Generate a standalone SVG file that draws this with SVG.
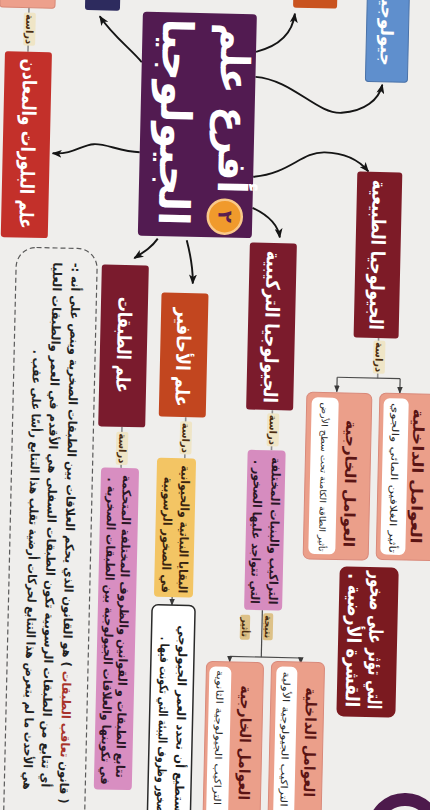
<svg xmlns="http://www.w3.org/2000/svg" width="430" height="810" viewBox="0 0 430 810">
<defs>
  <marker id="arr" viewBox="0 0 10 8" refX="9" refY="4" markerWidth="10" markerHeight="8" markerUnits="userSpaceOnUse" orient="auto">
    <path d="M0,0 L10,4 L0,8 L2.5,4 z" fill="#141414"/>
  </marker>
  <marker id="arrs" viewBox="0 0 10 8" refX="9" refY="4" markerWidth="7" markerHeight="6" markerUnits="userSpaceOnUse" orient="auto">
    <path d="M0,0 L10,4 L0,8 z" fill="#3a3a3a"/>
  </marker>
  <style>
    text { font-family: "DejaVu Sans", "Noto Sans", sans-serif; direction: rtl; text-anchor: middle; dominant-baseline: central; }
    .w { fill: #ffffff; font-weight: bold; }
    .hd { font-size: 19px; }
    .dk { fill: #2a1626; font-weight: bold; font-size: 12px; }
    .fac { fill: #5a1414; font-weight: bold; font-size: 15px; }
    .sm { fill: #2a2a2a; font-size: 9.5px; }
    .lbl { fill: #4a2c10; font-weight: bold; font-size: 10px; }
    .lblbg { fill: #efe5c6; }
    .tagbg { fill: #ddc187; }
    .stem { stroke: #8d8d8d; stroke-width: 1.6; fill: none; }
    .brk { stroke: #4a4a4a; stroke-width: 1.2; fill: none; }
    .cur { stroke: #151515; stroke-width: 1.9; fill: none; marker-end: url(#arr); }
    .salmon { fill: #eb9f8a; stroke: #d9897a; stroke-width: 1; }
    .strip { fill: #ffffff; }
  </style>
</defs>

<!-- paper -->
<rect x="0" y="0" width="430" height="810" fill="#efeeec"/>

<g transform="rotate(1.3 215 405)">

  <!-- connectors -->
  <g id="connectors">
    <path class="cur" d="M134,64 C124,52 104,38 91,19"/>
    <path class="cur" d="M134,154 C115,154 100,146 88,147 C75,148 68,158 47,157"/>
    <path class="cur" d="M154,240 C148,249 140,254 131,260"/>
    <path class="cur" d="M183,241 C187,255 190,268 190,284"/>
    <path class="cur" d="M248,51 C270,45 284,32 286,12"/>
    <path class="cur" d="M248,76 C285,78 310,112 335,110 C358,108 372,96 375,81"/>
    <path class="cur" d="M248,176 C285,172 295,150 319,150 C342,150 356,160 363,168"/>
    <path class="cur" d="M248,207 C264,214 274,224 276,236"/>

    <!-- study stems -->
    <line class="stem" x1="20" y1="10" x2="20" y2="56"/>
    <line class="stem" x1="122.5" y1="429" x2="122.5" y2="470"/>
    <line class="stem" x1="186" y1="418" x2="186" y2="459"/>
    <line class="stem" x1="272.5" y1="409" x2="272.5" y2="449"/>
    <line class="stem" x1="377" y1="334" x2="377" y2="374.5"/>
    <line class="brk" x1="176.5" y1="598" x2="176.5" y2="606" marker-end="url(#arrs)"/>

    <!-- brackets -->
    <path class="brk" d="M377,374.5 M336.5,374.5 L399.5,374.5"/>
    <line class="brk" x1="336.5" y1="374.5" x2="336.5" y2="389" marker-end="url(#arrs)"/>
    <line class="brk" x1="399.5" y1="374.5" x2="399.5" y2="389" marker-end="url(#arrs)"/>
    <line class="brk" x1="267" y1="609" x2="267" y2="656"/>
    <path class="brk" d="M235.5,656 L306.5,656"/>
    <line class="brk" x1="235.5" y1="656" x2="235.5" y2="661.5" marker-end="url(#arrs)"/>
    <line class="brk" x1="306.5" y1="656" x2="306.5" y2="661.5" marker-end="url(#arrs)"/>
  </g>

  <!-- study labels -->
  <g id="labels">
    <rect class="lblbg" x="15" y="17" width="12" height="33" rx="2"/>
    <text class="lbl" transform="translate(21 33.5) rotate(90)">دراسة</text>
    <rect class="lblbg" x="117" y="434" width="12" height="33" rx="2"/>
    <text class="lbl" transform="translate(123.5 450.5) rotate(90)">دراسة</text>
    <rect class="lblbg" x="180.5" y="422" width="12" height="33" rx="2"/>
    <text class="lbl" transform="translate(186.5 438.5) rotate(90)">دراسة</text>
    <rect class="lblbg" x="267.5" y="412" width="12" height="33" rx="2"/>
    <text class="lbl" transform="translate(273.5 428.5) rotate(90)">دراسة</text>
    <rect class="lblbg" x="372" y="337" width="12" height="33" rx="2"/>
    <text class="lbl" transform="translate(378 353.5) rotate(90)">دراسة</text>
    <rect class="tagbg" x="268" y="612" width="10" height="27" rx="2"/>
    <text class="lbl" style="font-size:9px" transform="translate(273 625.5) rotate(90)">نتيجة</text>
    <rect class="tagbg" x="245" y="614" width="10" height="25" rx="2"/>
    <text class="lbl" style="font-size:9px" transform="translate(250 626.5) rotate(90)">تأثير</text>
  </g>

  <!-- branches cut by the page edge -->
  <g id="n-top-pink"><rect x="-9" y="-20" width="55" height="32" rx="3" fill="#eda08c" stroke="#d88a78"/></g>
  <g id="n-top-navy"><rect x="76" y="-20" width="35" height="33" rx="3" fill="#2d2b5e"/></g>
  <g id="n-top-orange"><rect x="284" y="-20" width="44" height="26" rx="3" fill="#c9531f"/></g>
  <g id="n-top-blue">
    <rect x="358" y="-20" width="42" height="98" rx="3" fill="#5f8fcd" stroke="#4a72a8"/>
    <text class="w" style="font-size:17px; text-anchor:start" transform="translate(378.5 62) rotate(90)">جيولوجيا</text>
  </g>

  <!-- central node -->
  <g id="n-center">
    <rect x="134" y="13.4" width="114" height="224" rx="4" fill="#521b51"/>
    <text class="w" style="font-size:40px" textLength="170" lengthAdjust="spacingAndGlyphs" transform="translate(227 108) rotate(90)">أفرع علم</text>
    <text class="w" style="font-size:42px" textLength="207" lengthAdjust="spacingAndGlyphs" transform="translate(169 123) rotate(90)">الجيولوجيا</text>
    <circle cx="220.5" cy="216.5" r="17" fill="#f09a2c" stroke="#f9c98a" stroke-width="2.5"/>
    <text style="font-size:20px; font-weight:bold; fill:#5b1f4f" transform="translate(221 216.5) rotate(90)">٢</text>
  </g>

  <g id="n-crystals">
    <rect x="-3" y="56" width="47" height="186" rx="3" fill="#c3302a"/>
    <text class="w hd" textLength="170" lengthAdjust="spacingAndGlyphs" transform="translate(22.5 148) rotate(90)">علم البلورات والمعادن</text>
  </g>

  <g id="n-strata">
    <rect x="98.7" y="267" width="47" height="162" rx="3" fill="#7a1b2d"/>
    <text class="w hd" textLength="96" lengthAdjust="spacingAndGlyphs" transform="translate(123 347) rotate(90)">علم الطبقات</text>
  </g>

  <g id="n-strata-def">
    <rect x="102.5" y="470" width="38" height="322" rx="4" fill="#d88ec1"/>
    <text class="dk" textLength="303" lengthAdjust="spacingAndGlyphs" transform="translate(128.5 628.5) rotate(90)">تتابع الطبقات و القوانين والظروف المختلفة المتحكمة</text>
    <text class="dk" textLength="307" lengthAdjust="spacingAndGlyphs" transform="translate(113.5 633.5) rotate(90)">في تكوينها والعلاقات الجيولوجية بين الطبقات الصخرية .</text>
  </g>

  <g id="n-law">
    <rect x="13" y="251.6" width="81" height="620" rx="20" fill="none" stroke="#5a5a5a" stroke-width="1.2" stroke-dasharray="5 3"/>
    <text class="dk" style="fill:#222" textLength="541" lengthAdjust="spacingAndGlyphs" transform="translate(72.7 536.5) rotate(90)">( قانون <tspan fill="#a8322a">تعاقب الطبقات</tspan> ) هو القانون الذي يحكم العلاقات بين الطبقات الصخرية وينص على أنه :-</text>
    <text class="dk" style="fill:#222" textLength="525" lengthAdjust="spacingAndGlyphs" transform="translate(54 528.5) rotate(90)">أي تتابع من الطبقات الرسوبية تكون الطبقات السفلى هي الأقدم في العمر والطبقات العليا</text>
    <text class="dk" style="fill:#222" textLength="440" lengthAdjust="spacingAndGlyphs" transform="translate(36 574) rotate(90)">هي الأحدث ما لم يتعرض هذا التتابع لحركات أرضية تقلب هذا التتابع رأسًا على عقب .</text>
  </g>

  <g id="n-fossils">
    <rect x="159" y="293.7" width="47" height="124" rx="3" fill="#c2461f"/>
    <text class="w hd" textLength="99" lengthAdjust="spacingAndGlyphs" transform="translate(182.4 358) rotate(90)">علم الأحافير</text>
  </g>

  <g id="n-fossils-def">
    <rect x="158.3" y="459" width="39" height="139" rx="4" fill="#f3c564"/>
    <text class="dk" style="fill:#3a2410" textLength="128" lengthAdjust="spacingAndGlyphs" transform="translate(186.8 530) rotate(90)">البقايا النباتية والحيوانية</text>
    <text class="dk" style="fill:#3a2410" textLength="116" lengthAdjust="spacingAndGlyphs" transform="translate(169.8 536) rotate(90)">في الصخور الرسوبية</text>
  </g>

  <g id="n-fossils-use">
    <rect x="156.7" y="606" width="43" height="220" rx="6" fill="#ffffff" stroke="#2a2a2a" stroke-width="1.5"/>
    <text class="dk" style="fill:#1e1e1e" textLength="192" lengthAdjust="spacingAndGlyphs" transform="translate(188 722) rotate(90)">نستطيع أن نحدد العمر الجيولوجي</text>
    <text class="dk" style="fill:#1e1e1e" textLength="183" lengthAdjust="spacingAndGlyphs" transform="translate(170 729.5) rotate(90)">للصخور وظروف البيئة التي تكونت فيها .</text>
  </g>

  <g id="n-structural">
    <rect x="246.2" y="241.7" width="47" height="167" rx="3" fill="#7b1b2c"/>
    <text class="w hd" textLength="152" lengthAdjust="spacingAndGlyphs" transform="translate(270.5 325.7) rotate(90)">الجيولوجيا التركيبية</text>
  </g>

  <g id="n-structural-def">
    <rect x="248.7" y="449" width="38" height="160" rx="4" fill="#d68cbf"/>
    <text class="dk" textLength="147" lengthAdjust="spacingAndGlyphs" transform="translate(277.2 529.5) rotate(90)">التراكيب والبنيات المختلفة</text>
    <text class="dk" textLength="144" lengthAdjust="spacingAndGlyphs" transform="translate(259.2 531) rotate(90)">التي تتواجد عليها الصخور .</text>
  </g>

  <g id="n-internal-structures">
    <rect class="salmon" x="277.4" y="660" width="53" height="170" rx="6"/>
    <rect class="strip" x="282.4" y="665" width="21" height="160" rx="6"/>
    <text class="fac" textLength="110" lengthAdjust="spacingAndGlyphs" transform="translate(317.4 740) rotate(90)">العوامل الداخلية</text>
    <text class="sm" textLength="135" lengthAdjust="spacingAndGlyphs" transform="translate(292.9 737.5) rotate(90)">التراكيب الجيولوجية الأولية</text>
  </g>

  <g id="n-external-structures">
    <rect class="salmon" x="212.4" y="661.5" width="57" height="170" rx="6"/>
    <rect class="strip" x="215.4" y="666.5" width="22" height="160" rx="6"/>
    <text class="fac" textLength="115" lengthAdjust="spacingAndGlyphs" transform="translate(252.4 742) rotate(90)">العوامل الخارجية</text>
    <text class="sm" textLength="135" lengthAdjust="spacingAndGlyphs" transform="translate(226.4 737.5) rotate(90)">التراكيب الجيولوجية الثانوية</text>
  </g>

  <g id="n-physical">
    <rect x="352" y="168.3" width="45" height="166" rx="3" fill="#7d1b27"/>
    <text class="w hd" textLength="150" lengthAdjust="spacingAndGlyphs" transform="translate(374.6 251.3) rotate(90)">الجيولوجيا الطبيعية</text>
  </g>

  <g id="n-internal-forces">
    <rect class="salmon" x="379.6" y="389.3" width="62" height="166.4" rx="6"/>
    <rect class="strip" x="383.6" y="394.3" width="25" height="156.4" rx="6"/>
    <text class="fac" textLength="135" lengthAdjust="spacingAndGlyphs" transform="translate(418.6 471.5) rotate(90)">العوامل الداخلية</text>
    <text class="sm" textLength="150" lengthAdjust="spacingAndGlyphs" transform="translate(396 474) rotate(90)">تأثير الغلافين المائي والجوي</text>
  </g>

  <g id="n-external-forces">
    <rect class="salmon" x="306.6" y="390" width="65" height="166.7" rx="6"/>
    <rect class="strip" x="311.6" y="395" width="27" height="156.7" rx="6"/>
    <text class="fac" textLength="127" lengthAdjust="spacingAndGlyphs" transform="translate(351.6 480.5) rotate(90)">العوامل الخارجية</text>
    <text class="sm" style="font-size:8.5px" textLength="149" lengthAdjust="spacingAndGlyphs" transform="translate(325 474.5) rotate(90)">تأثير الطاقة الكامنة تحت سطح الأرض</text>
  </g>

  <g id="n-crust">
    <rect x="343.4" y="563.5" width="59" height="150" rx="7" fill="#7b1a20"/>
    <text class="w hd" textLength="138" lengthAdjust="spacingAndGlyphs" transform="translate(381.4 636.5) rotate(90)">التي تؤثر على صخور</text>
    <text class="w hd" textLength="134" lengthAdjust="spacingAndGlyphs" transform="translate(359.4 637) rotate(90)">القشرة الأرضية .</text>
  </g>

  <g id="n-badge">
    <circle cx="414.5" cy="826" r="31" fill="none" stroke="#4d1a4c" stroke-width="13"/>
  </g>
</g>
</svg>
